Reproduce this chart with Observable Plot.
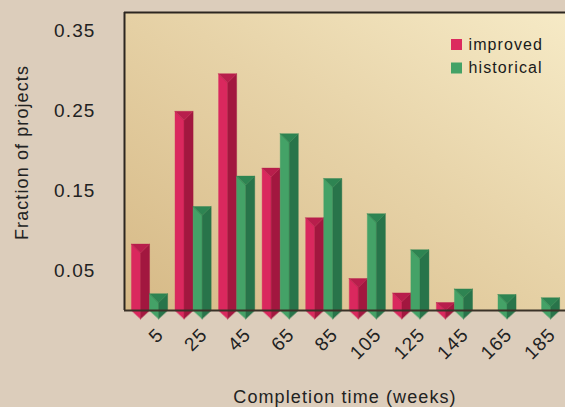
<!DOCTYPE html>
<html>
<head>
<meta charset="utf-8">
<script src="https://cdn.jsdelivr.net/npm/d3@7"></script>
<script src="https://cdn.jsdelivr.net/npm/@observablehq/plot@0.6"></script>
<style>
  html, body { margin: 0; padding: 0; background: #dccdbb; }
  #chart { width: 565px; height: 407px; }
  svg { display: block; }
</style>
</head>
<body>
<div id="chart"></div>
<script>
// ---- data ----
const weeks = [5, 25, 45, 65, 85, 105, 125, 145, 165, 185];
const improved = [0.083, 0.249, 0.296, 0.178, 0.116, 0.040, 0.022, 0.010, 0, 0];
const historical = [0.021, 0.130, 0.168, 0.221, 0.165, 0.121, 0.076, 0.027, 0.020, 0.016];
const seriesNames = ["improved", "historical"];
const yTicks = [0.05, 0.15, 0.25, 0.35];
const xLabel = "Completion time (weeks)";
const yLabel = "Fraction of projects";

// ---- styling ----
const palette = {
  improved:   {light: "#da285e", dark: "#a2173f", cap: "#b81e4c", swatch: "#dc2a5e"},
  historical: {light: "#44a267", dark: "#28744a", cap: "#2e8452", swatch: "#43a266"}
};
const BAR_W = 8.3;     // bar width in weeks (x units)
const CAP = 0.0112;    // depth of top bevel in y units
const TIP = 0.0104;    // depth of bottom point in y units
const font = "Liberation Sans, Arial, sans-serif";

// build prism faces as closed polygons
const faces = [];
let pid = 0;
seriesNames.forEach((name, si) => {
  const vals = name === "improved" ? improved : historical;
  weeks.forEach((w, i) => {
    const v = vals[i];
    if (!(v > 0)) return;
    const xL = si === 0 ? w - BAR_W : w;
    const xR = xL + BAR_W;
    const xc = (xL + xR) / 2;
    const cap = Math.min(CAP, v);
    const c = palette[name];
    const add = (pts, fill) => { const id = pid++; pts.forEach(([x, y]) => faces.push({id, x, y, fill})); };
    add([[xL, 0], [xL, v], [xc, v - cap], [xc, -TIP]], c.light);
    add([[xc, -TIP], [xc, v - cap], [xR, v], [xR, 0]], c.dark);
    add([[xL, v], [xR, v], [xc, v - cap]], c.cap);
  });
});

const legendMarks = seriesNames.flatMap((name, i) => [
  Plot.dot([name], {frameAnchor: "top-right", dx: -109, dy: 32 + i * 23.5, symbol: "square", r: 6.2, fill: palette[name].swatch, stroke: "none"}),
  Plot.text([name], {frameAnchor: "top-right", dx: -97, dy: 32 + i * 23.5, text: d => d, textAnchor: "start", lineAnchor: "middle", fontSize: 16, fill: "#1a1a1a"})
]);

const plot = Plot.plot({
  width: 565,
  height: 407,
  marginTop: 12,
  marginLeft: 124,
  marginRight: 0,
  marginBottom: 97,
  style: {background: "transparent", fontFamily: font, overflow: "visible", letterSpacing: "1.1px"},
  x: {type: "linear", domain: [-6.5, 196], axis: null},
  y: {domain: [0, 0.3725], axis: null},
  color: {type: "identity"},
  marks: [
    Plot.frame({fill: "url(#bggrad)", stroke: "none"}),
    Plot.axisY(yTicks, {tickSize: 0, tickPadding: 29, tickFormat: d3.format(".2f"), fontSize: 19, fill: "#222", label: null}),
    Plot.line(faces, {x: "x", y: "y", z: "id", fill: "fill", stroke: "fill", strokeWidth: 0.4, curve: "linear-closed"}),
    Plot.ruleX([-6.5], {stroke: "#2c2620", strokeWidth: 2}),
    Plot.ruleY([0], {stroke: "#3a3228", strokeWidth: 2}),
    Plot.ruleY([0.3725], {stroke: "#2c2620", strokeWidth: 2}),
    Plot.text(weeks, {x: d => d, frameAnchor: "bottom", text: d => String(d), rotate: -45, textAnchor: "end", lineAnchor: "middle", dx: 11, dy: 21, fontSize: 19, fill: "#222"}),
    Plot.text([xLabel], {frameAnchor: "bottom", text: d => d, textAnchor: "middle", lineAnchor: "middle", dy: 87, fontSize: 18, fill: "#222"}),
    Plot.text([yLabel], {frameAnchor: "left", text: d => d, textAnchor: "middle", lineAnchor: "middle", rotate: -90, dx: -102, dy: -9, fontSize: 18, fill: "#222"}),
    ...legendMarks
  ]
});

// gradient for the plot area background
const svg = d3.select(plot);
const defs = svg.insert("defs", ":first-child");
const g = defs.append("linearGradient").attr("id", "bggrad")
  .attr("x1", "0%").attr("y1", "100%").attr("x2", "100%").attr("y2", "0%");
g.append("stop").attr("offset", "0%").attr("stop-color", "#d6b986");
g.append("stop").attr("offset", "55%").attr("stop-color", "#e7d3a8");
g.append("stop").attr("offset", "100%").attr("stop-color", "#f6eac6");

document.getElementById("chart").appendChild(plot);
</script>
</body>
</html>
